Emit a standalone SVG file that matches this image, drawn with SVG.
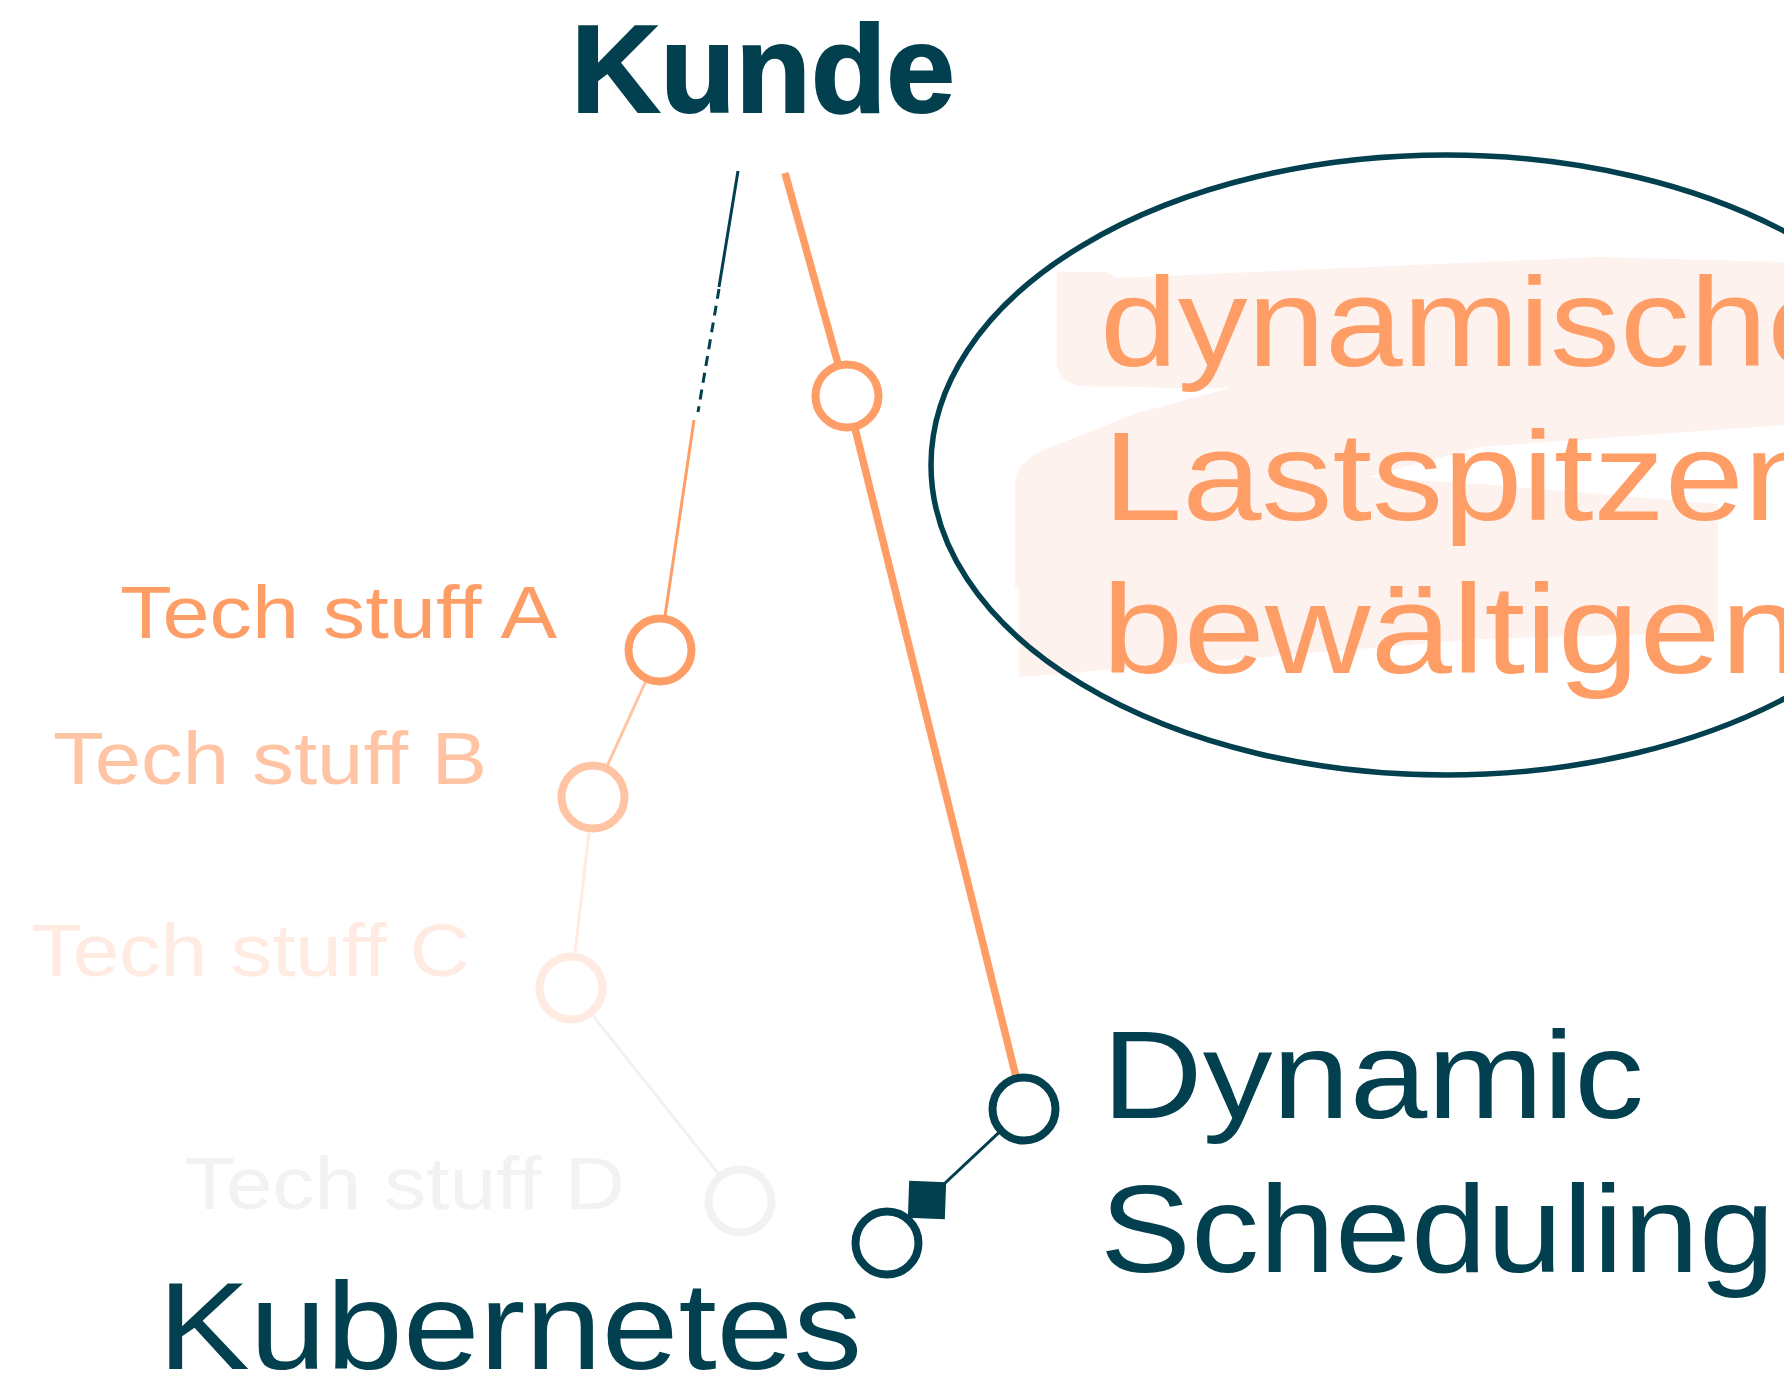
<svg xmlns="http://www.w3.org/2000/svg" width="1784" height="1378" viewBox="0 0 1784 1378">
<style>
.sans{font-family:"Liberation Sans",Arial,sans-serif}
.dark{fill:#02404F}
.org{fill:#FF9D66}
.big{font-size:124px}
.tech{font-size:74px}
.node{fill:#FFFFFF;stroke-width:8}
.cn{fill:none;stroke-linecap:butt}
</style>
<rect x="0" y="0" width="1784" height="1378" fill="#FFFFFF"/>

<g id="highlight">
<path d="M1057,272 L1107,272 L1117,278 L1600,257 L1784,262 L1784,425 L1480,447 L1367,477 L1480,484 L1718,504 L1718,632 L1480,639 L1019,677 L1019,588 L1015,588 L1015,480 Q1018,462 1043,450 L1137,413 L1230,388 L1187,388 L1080,386 Q1060,382 1057,366 Z" fill="#FEF2EE"/>
</g>

<g id="connectors">
<line class="cn" x1="738" y1="171" x2="719" y2="287" stroke="#02404F" stroke-width="3"/>
<line class="cn" x1="719" y1="289" x2="698" y2="412" stroke="#02404F" stroke-width="3" stroke-dasharray="10 7"/>
<line class="cn" x1="694" y1="420" x2="660" y2="650" stroke="#FF9D66" stroke-width="3"/>
<line class="cn" x1="785" y1="173" x2="847" y2="396" stroke="#FF9D66" stroke-width="7.5"/>
<line class="cn" x1="847" y1="396" x2="1024" y2="1109" stroke="#FF9D66" stroke-width="7.5"/>
<line class="cn" x1="660" y1="650" x2="593" y2="797" stroke="#FFC4A4" stroke-width="3"/>
<line class="cn" x1="593" y1="797" x2="571" y2="988" stroke="#FFEBE1" stroke-width="3"/>
<line class="cn" x1="571" y1="988" x2="740" y2="1201" stroke="#F2F2F2" stroke-width="3"/>
<line class="cn" x1="1024" y1="1109" x2="927" y2="1200" stroke="#02404F" stroke-width="3"/>
<rect x="908.5" y="1181.5" width="37" height="37" fill="#02404F" transform="rotate(2 927 1200)"/>
</g>

<g id="ellipse">
<ellipse cx="1446" cy="465" rx="515" ry="310" fill="none" stroke="#02404F" stroke-width="5.5"/>
</g>

<g id="kunde">
<text class="sans dark" x="571" y="111.5" font-size="125" font-weight="bold" stroke="#02404F" stroke-width="2" textLength="384" lengthAdjust="spacingAndGlyphs">Kunde</text>
</g>

<g id="node-top">
<circle class="node" cx="847" cy="396" r="31.5" stroke="#FF9D66"/>
</g>

<g id="node-techA">
<circle class="node" cx="660" cy="650" r="31.5" stroke="#FF9D66"/>
<text class="sans tech" x="120" y="638" fill="#FF9D66" textLength="437" lengthAdjust="spacingAndGlyphs">Tech stuff A</text>
</g>

<g id="node-techB">
<circle class="node" cx="593" cy="797" r="31.5" stroke="#FFC4A4"/>
<text class="sans tech" x="53" y="784" fill="#FFC4A4" textLength="434" lengthAdjust="spacingAndGlyphs">Tech stuff B</text>
</g>

<g id="node-techC">
<circle class="node" cx="571" cy="988" r="31.5" stroke="#FFEBE1"/>
<text class="sans tech" x="31" y="976" fill="#FFEBE1" textLength="439" lengthAdjust="spacingAndGlyphs">Tech stuff C</text>
</g>

<g id="node-techD">
<circle class="node" cx="740" cy="1201" r="31.5" stroke="#F2F2F2"/>
<text class="sans tech" x="184" y="1208.5" fill="#F2F2F2" textLength="441" lengthAdjust="spacingAndGlyphs">Tech stuff D</text>
</g>

<g id="node-dynamic">
<circle class="node" cx="1024" cy="1109" r="31.5" stroke="#02404F"/>
<text class="sans big dark" x="1102" y="1118" textLength="542" lengthAdjust="spacingAndGlyphs">Dynamic</text>
<text class="sans big dark" x="1100" y="1272" textLength="675" lengthAdjust="spacingAndGlyphs">Scheduling</text>
</g>

<g id="node-kubernetes">
<circle class="node" cx="887" cy="1243" r="31.5" stroke="#02404F"/>
<text class="sans big dark" x="158" y="1369" textLength="704" lengthAdjust="spacingAndGlyphs">Kubernetes</text>
</g>

<g id="goal">
<text class="sans org" x="1100" y="366" font-size="126" textLength="745" lengthAdjust="spacingAndGlyphs">dynamische</text>
<text class="sans org" x="1103" y="519.5" font-size="126" textLength="720" lengthAdjust="spacingAndGlyphs">Lastspitzen</text>
<text class="sans org" x="1102" y="673" font-size="126" textLength="700" lengthAdjust="spacingAndGlyphs">bewältigen</text>
</g>
</svg>
